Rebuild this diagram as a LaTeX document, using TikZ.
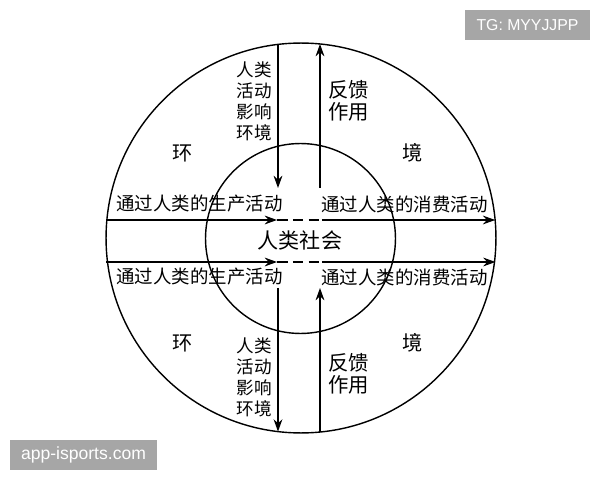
\documentclass[tikz,border=0pt]{standalone}
\usepackage{fontspec}
\usepackage{xcolor}
\usetikzlibrary{arrows.meta}
\setmainfont{Noto Sans CJK SC}
\newfontfamily\wmfont{Liberation Sans}

\begin{document}
\begin{tikzpicture}[x=0.02cm,y=-0.02cm,line width=0.8pt,
    ring/.style={circle,draw,inner sep=0pt},
    flow/.style={-{Stealth[length=7pt,width=5pt]}},
    txt/.style={inner sep=0pt,font=\fontsize{10.5pt}{12pt}\selectfont},
    vtxt/.style={inner sep=0pt,align=center,font=\fontsize{10pt}{12pt}\selectfont},
    ftxt/.style={inner sep=0pt,align=center,font=\fontsize{11.6pt}{12.6pt}\selectfont},
    big/.style={inner sep=0pt,font=\fontsize{11.5pt}{12pt}\selectfont},
    wm/.style={fill=gray!70,text=white,inner sep=0pt,minimum height=0.6cm,font=\wmfont}]
        \useasboundingbox (0,0) rectangle (600,480);
        \node[ring,minimum size=7.8cm](outer) at (301,238) {};
        \node[ring,minimum size=3.8cm](inner) at (300.5,238.5) {};
        \coordinate(tl) at (106.8,220);
        \coordinate(ta) at (277,220);
        \coordinate(tb) at (322,220);
        \coordinate(tr) at (495.2,220);
        \coordinate(bl) at (106.5,262);
        \coordinate(ba) at (277,262);
        \coordinate(bb) at (322,262);
        \coordinate(br) at (495.5,262);
        \coordinate(lt) at (278,44.4);
        \coordinate(lm) at (278,188);
        \coordinate(lu) at (278,288);
        \coordinate(lb) at (278,431.6);
        \coordinate(rt) at (320,44);
        \coordinate(rm) at (320,188);
        \coordinate(ru) at (320,288);
        \coordinate(rb) at (320,432);
        \draw[flow](tl)--(ta);
        \draw[dashed,dash pattern=on 6pt off 3pt](ta)--(tb);
        \draw[flow](tb)--(tr);
        \draw[flow](bl)--(ba);
        \draw[dashed,dash pattern=on 6pt off 3pt](ba)--(bb);
        \draw[flow](bb)--(br);
        \draw[flow](lt)--(lm);
        \draw[flow](rm)--(rt);
        \draw[flow](lu)--(lb);
        \draw[flow](rb)--(ru);
        \node[txt](prod1) at (199.5,204) {通过人类的生产活动};
        \node[txt](cons1) at (404.5,204) {通过人类的消费活动};
        \node[txt](prod2) at (199.5,277) {通过人类的生产活动};
        \node[txt](cons2) at (404.5,277) {通过人类的消费活动};
        \node[big,font=\fontsize{12pt}{12pt}\selectfont](society) at (300,240) {人类社会};
        \node[big](huan1) at (183,153) {环};
        \node[big](jing1) at (413,153) {境};
        \node[big](huan2) at (183,343) {环};
        \node[big](jing2) at (413,343) {境};
        \node[vtxt](act1) at (254.5,101.5) {人类\\活动\\影响\\环境};
        \node[vtxt](act2) at (254.5,377.5) {人类\\活动\\影响\\环境};
        \node[ftxt](fb1) at (348.5,101) {反馈\\作用};
        \node[ftxt](fb2) at (348.5,373.5) {反馈\\作用};
        \node[wm,minimum width=2.5cm,font=\wmfont\fontsize{9pt}{10pt}\selectfont](tg) at (527.5,25) {TG: MYYJJPP};
        \node[wm,minimum width=2.94cm,font=\wmfont\fontsize{10pt}{11pt}\selectfont](site) at (83.5,455) {app-isports.com};
        \end{tikzpicture}
\end{document}
